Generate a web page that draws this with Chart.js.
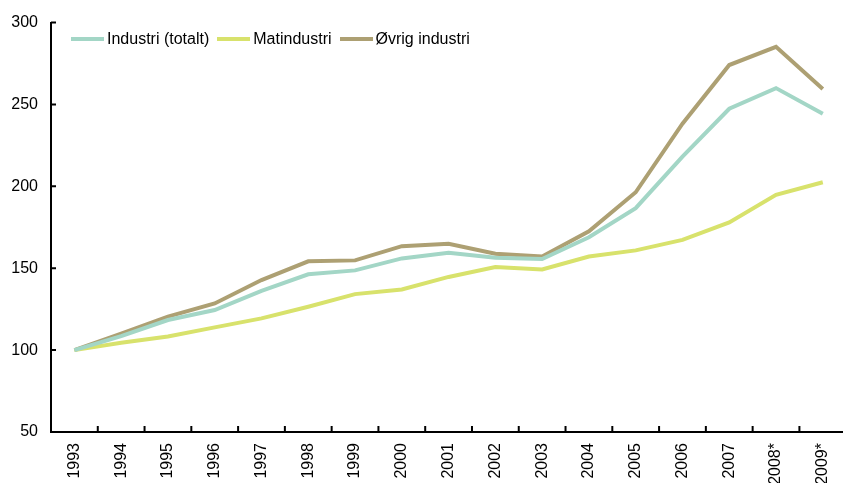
<!DOCTYPE html>
<html>
<head>
<meta charset="utf-8">
<script src="https://cdn.jsdelivr.net/npm/chart.js@4/dist/chart.umd.min.js"></script>
<style>
  html, body { margin: 0; padding: 0; overflow: hidden; background: #fff; }
  #wrap { position: relative; width: 853px; height: 483px; }
  #legend {
    position: absolute; left: 71px; top: 30px;
    display: flex; align-items: center;
    font-family: "Liberation Sans", Arial, sans-serif; font-size: 16px; color: #000;
  }
  #legend .item { display: flex; align-items: center; margin-right: 8px; }
  #legend .swatch { width: 33px; height: 4px; margin-right: 3px; }
</style>
</head>
<body>
<div id="wrap">
  <canvas id="myChart_1" width="853" height="483"></canvas>
  <div id="legend"></div>
</div>
<script>
const years = ["1993", "1994", "1995", "1996", "1997", "1998", "1999", "2000", "2001",
  "2002", "2003", "2004", "2005", "2006", "2007", "2008*", "2009*"];
const industriTotalt = [100, 108.5, 118.4, 124.5, 136.2, 146.3, 148.7, 156, 159.4,
  156.4, 155.6, 168.9, 186.7, 218.1, 247.4, 260, 244.4];
const matindustri = [100, 104.5, 108.3, 113.9, 119.4, 126.5, 134.2, 137, 144.7,
  150.7, 149.3, 157.2, 160.9, 167.3, 178, 194.8, 202.5];
const ovrigIndustri = [100, 110, 120.5, 128.5, 142.8, 154.2, 154.8, 163.5, 164.9,
  158.8, 157.2, 172.6, 196.4, 238.3, 274.1, 285.2, 259.5];
const yTicks = [50, 100, 150, 200, 250, 300];

const font = "'Liberation Sans', Arial, sans-serif";

// tick marks pointing into the plot
const innerTicks = {
  id: "innerTicks",
  afterDraw(chart) {
    const c = chart.ctx;
    const x = chart.scales.x;
    const y = chart.scales.y;
    c.save();
    c.strokeStyle = "#000";
    c.lineWidth = 2;
    c.beginPath();
    for (let i = 1; i < years.length; i++) {
      const px = (x.getPixelForValue(i - 1) + x.getPixelForValue(i)) / 2;
      c.moveTo(px, y.bottom);
      c.lineTo(px, y.bottom - 6);
    }
    for (let i = 1; i < yTicks.length; i++) {
      const py = y.getPixelForValue(yTicks[i]);
      c.moveTo(x.left, py);
      c.lineTo(x.left + 5, py);
    }
    c.stroke();
    c.restore();
  },
};

const series = [
  { label: "Industri (totalt)", data: industriTotalt, color: "#a3d6c6" },
  { label: "Matindustri", data: matindustri, color: "#d8e26c" },
  { label: "Øvrig industri", data: ovrigIndustri, color: "#ada073" },
];

const config = {
  type: "line",
  data: {
    labels: years,
    datasets: series.map((s) => ({
      label: s.label,
      data: s.data,
      borderColor: s.color,
      backgroundColor: s.color,
      borderWidth: 4,
      pointRadius: 0,
      tension: 0,
      fill: false,
    })),
  },
  options: {
    responsive: false,
    animation: false,
    layout: { padding: { top: 20, right: 0, left: 0, bottom: 0 } },
    plugins: { legend: { display: false }, tooltip: { enabled: false } },
    scales: {
      x: {
        offset: true,
        grid: { display: false, drawTicks: false },
        border: { display: true, color: "#000", width: 2 },
        ticks: {
          autoSkip: false,
          maxRotation: 90,
          minRotation: 90,
          padding: 11,
          color: "#000",
          font: { family: font, size: 16 },
        },
        afterFit(scale) { scale.height = 51; },
      },
      y: {
        min: 50,
        max: 300,
        grid: { display: false, drawTicks: false },
        border: { display: true, color: "#000", width: 2 },
        ticks: {
          stepSize: 50,
          padding: 13,
          color: "#000",
          font: { family: font, size: 16 },
        },
        afterFit(scale) { scale.width = 51; },
      },
    },
  },
  plugins: [innerTicks],
};

const ctx = document.getElementById("myChart_1").getContext("2d");
const myChart_1 = new Chart(ctx, config);

const legend = document.getElementById("legend");
series.forEach((s) => {
  const item = document.createElement("div");
  item.className = "item";
  const sw = document.createElement("span");
  sw.className = "swatch";
  sw.style.background = s.color;
  const txt = document.createElement("span");
  txt.textContent = s.label;
  item.appendChild(sw);
  item.appendChild(txt);
  legend.appendChild(item);
});
</script>
</body>
</html>
